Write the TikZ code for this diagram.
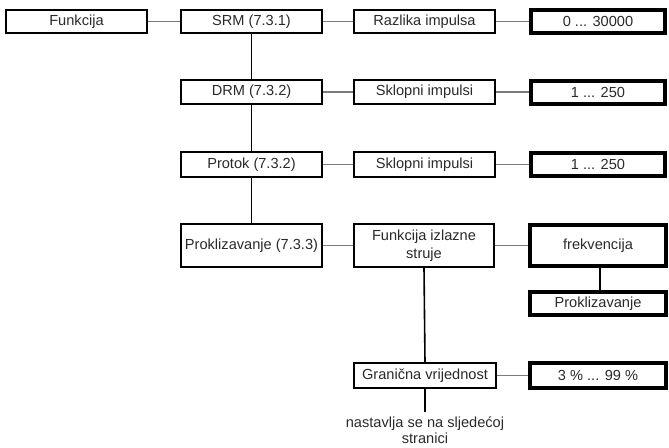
\documentclass[tikz,border=0pt]{standalone}
\usepackage{fontspec}
\setmainfont{Liberation Sans}
\definecolor{txt}{HTML}{2A2A2A}
\definecolor{conn}{HTML}{7A7A7A}
\begin{document}
\begin{tikzpicture}[x=1pt,y=-1pt,
  every node/.style={font=\fontsize{14.6}{18}\selectfont, text=txt, inner sep=0pt},
  box/.style={draw=black, line width=1.5pt, fill=white, rectangle, minimum width=141pt, minimum height=23pt, align=center},
  valbox/.style={draw=black, line width=4pt, fill=white, rectangle, minimum width=134pt, minimum height=23pt, align=center},
  hline/.style={draw=conn, line width=1.2pt},
  vline/.style={draw=black, line width=1.6pt}]
\useasboundingbox (0,0) rectangle (669,447);
% nodes
\node[box] (fun) at (76.5,21.5) {Funkcija};
\node[box] (srm) at (251.5,21.5) {SRM (7.3.1)};
\node[box] (raz) at (424.5,21.5) {Razlika impulsa};
\node[valbox] (v1) at (598,21.5) {0 ... 30000};

\node[box, minimum height=24pt] (drm) at (251.5,92) {DRM (7.3.2)};
\node[box, minimum height=24pt] (skl1) at (424.5,92) {Sklopni impulsi};
\node[valbox] (v2) at (598,92) {1 ... 250};

\node[box, minimum height=25pt] (pro) at (251.5,164.5) {Protok (7.3.2)};
\node[box, minimum height=25pt] (skl2) at (424.5,164.5) {Sklopni impulsi};
\node[valbox] (v3) at (598,164.5) {1 ... 250};

\node[box, minimum height=43pt] (prk) at (251.5,245.5) {Proklizavanje (7.3.3)};
\node[box, minimum height=43pt, minimum width=140pt] (fis) at (424,245.5) {Funkcija izlazne\\struje};
\node[valbox, minimum width=136pt, minimum height=41pt] (frk) at (598,245.5) {frekvencija};
\node[valbox, minimum width=136pt] (prk2) at (598,303.5) {Proklizavanje};

\node[box, minimum height=25pt, minimum width=142pt] (gra) at (425,375.5) {Granična vrijednost};
\node[valbox, minimum width=136pt, minimum height=25pt] (v4) at (598,375.5) {3 \% ... 99 \%};

\coordinate (end) at (425,412);
\node[align=center, font=\fontsize{14.6}{16.5}\selectfont] (nast) at (425,430) {nastavlja se na sljedećoj\\stranici};

% connectors
\draw[hline] (fun.east) -- (srm.west);
\draw[hline] (srm.east) -- (raz.west);
\draw[hline] (raz.east) -- (v1.west);
\draw[hline] (drm.east) -- (skl1.west);
\draw[hline] (skl1.east) -- (v2.west);
\draw[hline] (pro.east) -- (skl2.west);
\draw[hline] (skl2.east) -- (v3.west);
\draw[hline] (prk.east) -- (fis.west);
\draw[hline] (fis.east) -- (frk.west);
\draw[hline] (gra.east) -- (v4.west);

\draw[vline] (srm.south) -- (drm.north);
\draw[vline] (drm.south) -- (pro.north);
\draw[vline] (pro.south) -- (prk.north);
\draw[vline] (fis.south) -- (gra.north);
\draw[vline] (gra.south) -- (end);
\draw[vline] ([xshift=2pt]frk.south) -- ([xshift=2pt]prk2.north);
\end{tikzpicture}
\end{document}
